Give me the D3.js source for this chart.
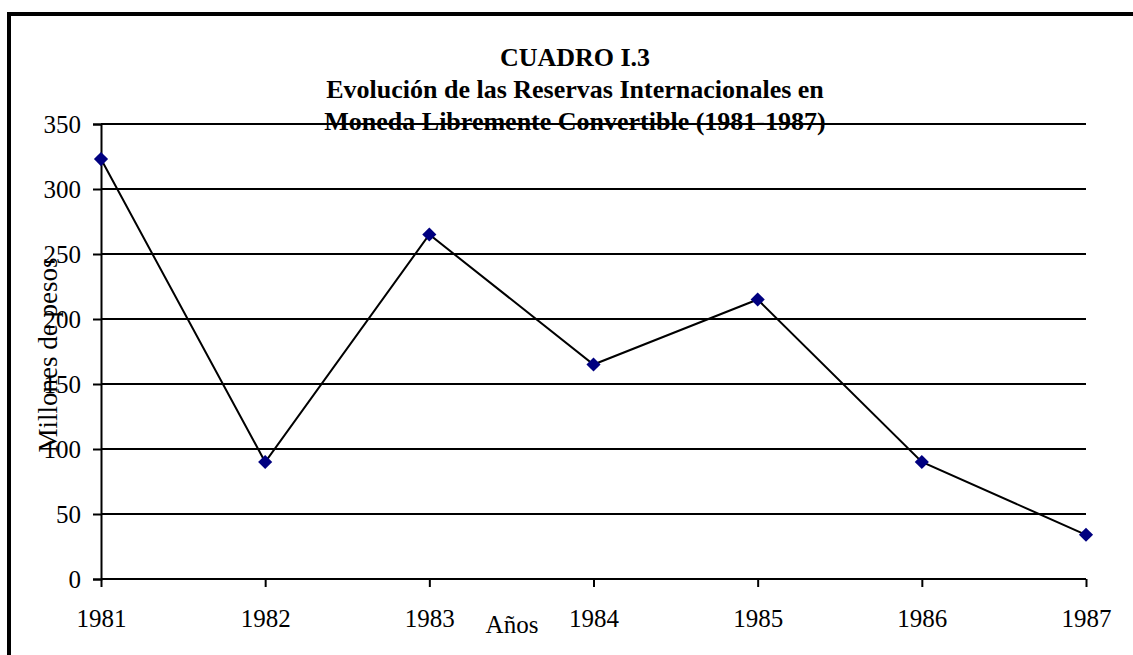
<!DOCTYPE html>
<html>
<head>
<meta charset="utf-8">
<script src="https://cdn.jsdelivr.net/npm/d3@7"></script>
<style>
  body { margin: 0; background: #fff; }
  text { font-family: "Liberation Serif", "Times New Roman", serif; }
</style>
</head>
<body>
<svg id="svg1" width="1133" height="655"></svg>
<script>
var years = [1981, 1982, 1983, 1984, 1985, 1986, 1987];
var reservas = [323, 90, 265, 165, 215, 90, 34];
var yTicks = [0, 50, 100, 150, 200, 250, 300, 350];
var titleLines = ["CUADRO I.3", "Evolución de las Reservas Internacionales en", "Moneda Libremente Convertible (1981-1987)"];

var width = 1133, height = 655;
var margin = {left: 101, right: 47, top: 124, bottom: 76};

var svg1 = d3.select("#svg1");

// frame (clipped at right and bottom like the original)
svg1.append("rect")
  .attr("x", 9).attr("y", 14)
  .attr("width", 1200).attr("height", 700)
  .attr("fill", "none").attr("stroke", "black").attr("stroke-width", 4);

var x = d3.scalePoint().domain(years).range([margin.left, width - margin.right]);
var y = d3.scaleLinear().domain([0, 350]).range([height - margin.bottom, margin.top]);

// gridlines
svg1.append("g")
  .selectAll("line")
  .data(yTicks.filter(d => d > 0))
  .enter()
  .append("line")
  .attr("x1", margin.left).attr("x2", width - margin.right)
  .attr("y1", d => y(d)).attr("y2", d => y(d))
  .attr("stroke", "black").attr("stroke-width", 2);

// y axis
var yAxis = svg1.append("g")
  .attr("transform", `translate(${margin.left},0)`)
  .call(d3.axisLeft(y).tickValues(yTicks).tickSize(8).tickPadding(12));
yAxis.selectAll("text").style("font-size", "25px").attr("fill", "black").style("font-family", "Liberation Serif");
yAxis.selectAll("line, path").attr("stroke", "black").attr("stroke-width", 2);

// x axis
var xAxis = svg1.append("g")
  .attr("transform", `translate(0,${y(0)})`)
  .call(d3.axisBottom(x).tickSize(8).tickSizeOuter(0).tickPadding(22).tickFormat(d3.format("d")));
xAxis.select(".domain").attr("d", `M${margin.left},0H${width - margin.right}`);
xAxis.selectAll("text").style("font-size", "25px").attr("fill", "black").style("font-family", "Liberation Serif");
xAxis.selectAll("line, path").attr("stroke", "black").attr("stroke-width", 2);

// title (last line sits over the top gridline, as in the original)
svg1.append("text")
  .attr("x", 575).attr("y", 66)
  .attr("text-anchor", "middle")
  .style("font-size", "26px").style("font-weight", "bold")
  .selectAll("tspan")
  .data(titleLines)
  .enter()
  .append("tspan")
  .attr("x", 575)
  .attr("dy", (d, i) => i === 0 ? 0 : 32)
  .text(d => d);

// axis titles
svg1.append("text")
  .attr("transform", "translate(57,355) rotate(-90)")
  .attr("text-anchor", "middle")
  .style("font-size", "27px")
  .text("Millones de pesos");

svg1.append("text")
  .attr("x", 512).attr("y", 633)
  .attr("text-anchor", "middle")
  .style("font-size", "25px")
  .text("Años");

// line
var data = years.map((d, i) => ({year: d, value: reservas[i]}));
svg1.append("path")
  .datum(data)
  .attr("fill", "none")
  .attr("stroke", "black")
  .attr("stroke-width", 2)
  .attr("d", d3.line().x(d => x(d.year)).y(d => y(d.value)));

// diamond markers: squares turned 45 degrees
svg1.append("g")
  .selectAll("path")
  .data(data)
  .enter()
  .append("path")
  .attr("d", d3.symbol().type(d3.symbolSquare).size(100))
  .attr("transform", d => `translate(${x(d.year)},${y(d.value)}) rotate(45)`)
  .attr("fill", "#000080");
</script>
</body>
</html>
